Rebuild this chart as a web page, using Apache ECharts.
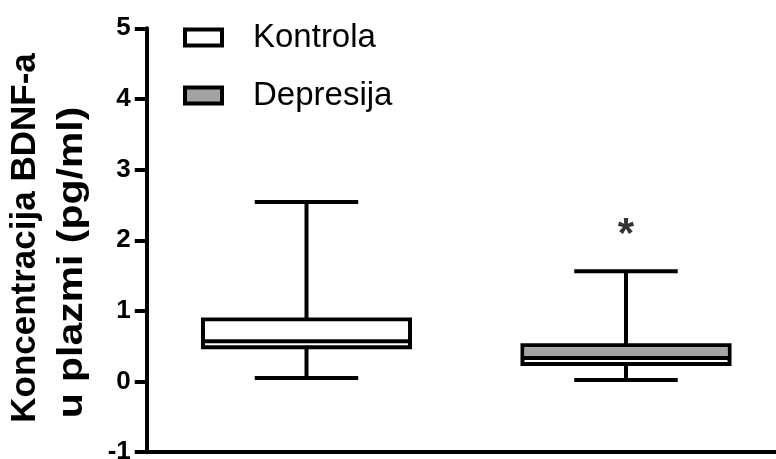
<!DOCTYPE html>
<html>
<head>
<meta charset="utf-8">
<script src="https://cdn.jsdelivr.net/npm/echarts@6/dist/echarts.min.js"></script>
<style>
  html, body { margin: 0; padding: 0; background: #fff; }
  #chart { width: 776px; height: 459px; }
</style>
</head>
<body>
<div id="chart"></div>
<script>
// groups on the x axis
var groups = ['Kontrola', 'Depresija'];
// min, Q1, median, Q3, max  (pg/ml)
var kontrola = [0.05, 0.485, 0.57, 0.878, 2.541];
var depresija = [0.022, 0.248, 0.333, 0.513, 1.56];
// box fill per group
var fills = ['#ffffff', '#a3a3a3'];
// significance mark above each group
var sigMarks = ['', '*'];
var sigY = [null, 2.18];
var yTicks = [-1, 0, 1, 2, 3, 4, 5];

var FONT = '"Liberation Sans", Arial, sans-serif';
var chart = echarts.init(document.getElementById('chart'));

function renderBox(params, api) {
  var idx = api.value(0);
  var pMin = api.coord([idx, api.value(1)]);
  var pQ1 = api.coord([idx, api.value(2)]);
  var pMed = api.coord([idx, api.value(3)]);
  var pQ3 = api.coord([idx, api.value(4)]);
  var pMax = api.coord([idx, api.value(5)]);
  var band = api.size([1, 0])[0];
  var half = band * 0.324;
  var cap = half / 2;
  var x = pMin[0];
  var fill = fills[idx];
  var ln = { stroke: '#000', lineWidth: 4 };
  var kids = [
    { type: 'line', shape: { x1: x, y1: pMax[1], x2: x, y2: pQ3[1] }, style: ln },
    { type: 'line', shape: { x1: x, y1: pQ1[1], x2: x, y2: pMin[1] }, style: ln },
    { type: 'line', shape: { x1: x - cap, y1: pMax[1], x2: x + cap, y2: pMax[1] }, style: ln },
    { type: 'line', shape: { x1: x - cap, y1: pMin[1], x2: x + cap, y2: pMin[1] }, style: ln },
    { type: 'rect', shape: { x: x - half, y: pQ3[1], width: half * 2, height: pQ1[1] - pQ3[1] },
      style: { fill: '#fff', stroke: '#000', lineWidth: 4 } },
    { type: 'rect', shape: { x: x - half + 2, y: pQ3[1] + 2, width: half * 2 - 4, height: pMed[1] - pQ3[1] - 2 },
      style: { fill: fill } },
    { type: 'line', shape: { x1: x - half, y1: pMed[1], x2: x + half, y2: pMed[1] }, style: ln }
  ];
  return { type: 'group', children: kids };
}

function boxData(i, v) {
  return [[i].concat(v)];
}

var sigData = [];
sigMarks.forEach(function (m, i) {
  if (m) sigData.push({ value: [i, sigY[i]], mark: m });
});

function legendFor(name, fill, top) {
  return {
    left: 183,
    top: top,
    padding: 0,
    selectedMode: false,
    icon: 'rect',
    itemWidth: 37,
    itemHeight: 16,
    data: [{ name: name, itemStyle: { color: fill, borderColor: '#000', borderWidth: 4 } }],
    textStyle: { fontFamily: FONT, fontSize: 33, color: '#000', padding: [0, 0, 0, 26] }
  };
}

chart.setOption({
  backgroundColor: '#fff',
  animation: false,
  grid: { left: 146.75, right: -9.75, top: 28.3, bottom: 6.8, containLabel: false, outerBoundsMode: 'none' },
  legend: [
    legendFor(groups[0], fills[0], 21),
    legendFor(groups[1], fills[1], 79)
  ],
  xAxis: {
    type: 'category',
    data: groups,
    axisLine: { onZero: false, lineStyle: { color: '#000', width: 4 } },
    axisTick: { show: false },
    axisLabel: { show: false },
    splitLine: { show: false }
  },
  yAxis: {
    type: 'value',
    min: yTicks[0],
    max: yTicks[yTicks.length - 1],
    interval: 1,
    axisLine: { show: true, lineStyle: { color: '#000', width: 4 } },
    axisTick: { show: true, length: 12, lineStyle: { color: '#000', width: 4 } },
    axisLabel: { margin: 16, color: '#000', fontFamily: FONT, fontSize: 26, fontWeight: 'bold' },
    splitLine: { show: false }
  },
  graphic: [
    { type: 'text', x: 25, y: 238, rotation: Math.PI / 2,
      style: { text: 'Koncentracija BDNF-a', font: 'bold 35px ' + FONT, fill: '#000',
               align: 'center', verticalAlign: 'middle' } },
    { type: 'text', x: 72, y: 262.5, rotation: Math.PI / 2, scaleX: 1.17,
      style: { text: 'u plazmi (pg/ml)', font: 'bold 35px ' + FONT, fill: '#000',
               align: 'center', verticalAlign: 'middle' } }
  ],
  series: [
    { name: groups[0], type: 'custom', renderItem: renderBox,
      itemStyle: { color: fills[0], borderColor: '#000' },
      encode: { x: 0, y: [1, 2, 3, 4, 5] }, data: boxData(0, kontrola) },
    { name: groups[1], type: 'custom', renderItem: renderBox,
      itemStyle: { color: fills[1], borderColor: '#000' },
      encode: { x: 0, y: [1, 2, 3, 4, 5] }, data: boxData(1, depresija) },
    { type: 'scatter', symbolSize: 0, silent: true, data: sigData,
      label: { show: true, position: 'inside', offset: [0, 8],
               formatter: function (p) { return p.data.mark; },
               fontFamily: FONT, fontSize: 42, fontWeight: 'bold', color: '#000' } }
  ]
});
</script>
</body>
</html>
